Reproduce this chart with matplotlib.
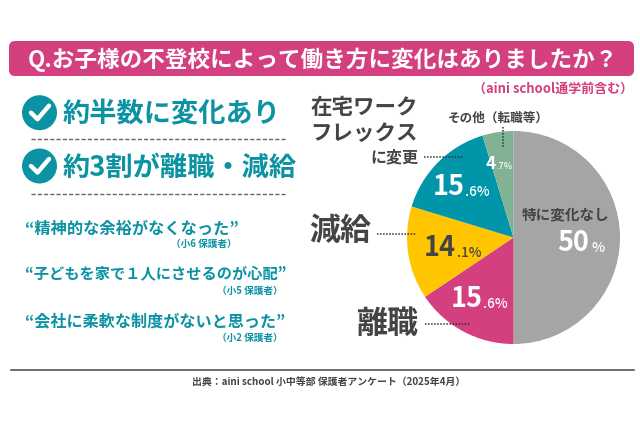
import matplotlib
matplotlib.use("Agg")
import matplotlib.pyplot as plt
from matplotlib.patches import FancyBboxPatch, Circle

categories = ["特に変化なし", "離職", "減給", "在宅ワーク\nフレックス\nに変更", "その他（転職等）"]
values = [50, 15.6, 14.1, 15.6, 4.7]
colors = ["#a5a5a5", "#d33f7f", "#ffc600", "#0095a8", "#82b294"]

title = "Q.お子様の不登校によって働き方に変化はありましたか？"
subnote = "（aini school通学前含む）"
findings = ["約半数に変化あり", "約3割が離職・減給"]
quotes = ["“精神的な余裕がなくなった”", "“子どもを家で１人にさせるのが心配”", "“会社に柔軟な制度がないと思った”"]
grades = ["（小6 保護者）", "（小5 保護者）", "（小2 保護者）"]
source = "出典：aini school 小中等部 保護者アンケート（2025年4月）"

plt.rcParams['font.family'] = ['Noto Sans CJK JP', 'DejaVu Sans']
W, H = 640, 426
fig = plt.figure(figsize=(W/100, H/100), dpi=100, facecolor="white")
bg = fig.add_axes([0, 0, 1, 1], zorder=5)
bg.set_xlim(0, W); bg.set_ylim(H, 0); bg.axis("off")

TEAL = "#0b93a3"; PINK = "#d33f7f"; DARK = "#444444"

def px(s):
    return s * 0.72

def T(x, y, s, size, color=DARK, ha="left", weight="bold", **kw):
    return bg.text(x, y + size * 0.09, s, fontsize=px(size), color=color, ha=ha, va="center", fontweight=weight, **kw)

# header
bg.add_patch(FancyBboxPatch((9, 41), 625, 35, boxstyle="round,pad=0,rounding_size=6", fc=PINK, ec="none"))
T(28, 58, title, 22.6, "white", weight="bold")
T(633, 88, subnote, 13, PINK, ha="right", weight="bold")

# findings
for cy, txt in zip([112.7, 166], findings):
    bg.add_patch(Circle((39.5, cy), 17.5, fc=TEAL, ec="none"))
    bg.plot([31, 37.5, 49], [cy, cy + 6.5, cy - 7], color="white", lw=3.2, solid_capstyle="round", solid_joinstyle="round")
    T(63, cy - 1, txt, 27.2, TEAL)
for y in [138.7, 193.7]:
    bg.plot([31, 286], [y, y], color="#666666", lw=1.0, dashes=(3, 1.5))

# quotes
quote_sizes = [16.2, 15.2, 16.1]
for qy, gy, gx, q, g, qs in zip([227, 273, 320], [243, 290, 337], [237, 283, 283], quotes, grades, quote_sizes):
    T(25, qy, q, qs, TEAL, weight="bold")
    T(gx, gy, g, 9.7, TEAL, ha="right", weight="bold")

# footer
bg.plot([11, 634], [370, 370], color="#555555", lw=1.2)
T(192, 382, source, 9.9, DARK, weight="bold")

# pie
cx, cy, r = 513.5, 237.5, 106.5
ax = fig.add_axes([(cx - r)/W, 1 - (cy + r)/H, 2*r/W, 2*r/H])
ax.pie(values, colors=colors, startangle=90, counterclock=False, radius=1,
       wedgeprops=dict(linewidth=0, edgecolor="none"))
ax.set_xlim(-1, 1); ax.set_ylim(-1, 1); ax.set_aspect("equal")

def val(xb, yb, big, small, size, ssize, color="white", gap=0.5):
    t = T(xb, yb, big, size, color, weight="bold")
    fig.canvas.draw()
    e = t.get_window_extent()
    T(e.x1 + gap, yb + size * 0.2, small, ssize, color, weight="medium")

T(566, 213, categories[0], 14.6, DARK, ha="center", weight="bold")
val(557, 241, "50", "%", 27, 14, "white", gap=3)
val(433, 185, "15", ".6%", 27, 13.5)
val(451, 297, "15", ".6%", 27, 13.5)
val(424, 246, "14", ".1%", 27, 13.5, DARK)
val(486, 162, "4", ".7%", 17, 9)

# outer labels
T(418, 106, "在宅ワーク", 21.5, DARK, ha="right", weight="bold")
T(418, 132, "フレックス", 21.5, DARK, ha="right", weight="bold")
T(418, 155.5, "に変更", 16, DARK, ha="right", weight="bold")
T(371, 228, categories[2], 31, DARK, ha="right")
T(418, 321, categories[1], 31, DARK, ha="right")
T(448, 117, categories[4], 12.6, DARK, weight="bold")

dot = dict(color="#333333", lw=1.1, dashes=(1, 1))
bg.plot([424, 463], [156.7, 156.7], **dot)
bg.plot([377, 416], [233.5, 233.5], **dot)
bg.plot([425, 470], [324, 324], **dot)
bg.plot([503, 503], [127, 147], **dot)

fig.savefig("out.png", dpi=100, facecolor="white")
